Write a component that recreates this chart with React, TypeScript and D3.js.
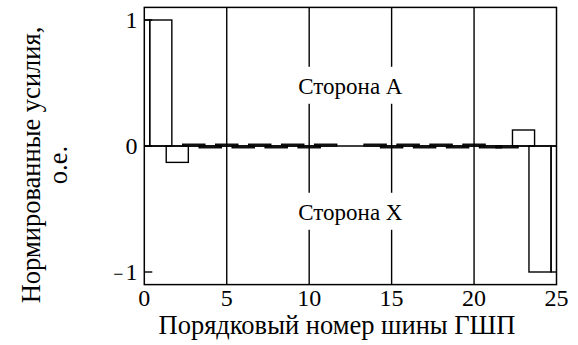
import React from "react";
import * as d3 from "d3";

const busNumbers = [0, 1, 2, 3, 4, 5, 6, 7, 8, 9, 10, 11, 12, 13, 14, 15, 16, 17, 18, 19, 20, 21, 22, 23, 24, 25];
const forces = [1, 1, -0.13, 0.014, -0.014, 0.014, -0.014, 0.014, -0.014, 0.014, -0.014, 0.014, 0, 0, 0.014, -0.014, 0.014, -0.014, 0.014, -0.014, 0.014, -0.014, -0.014, 0.127, -1, -1];
const xTicks = [0, 5, 10, 15, 20, 25];
const yTicks = [-1, 0, 1];
const xTitle = "Порядковый номер шины ГШП";
const yTitleLines = ["Нормированные усилия,", "о.е."];
const sideLabels = [
  { text: "Сторона A", value: 0.47, at: 12.5 },
  { text: "Сторона X", value: -0.53, at: 12.5 },
];

const W = 578;
const H = 345;
const FONT = "Liberation Serif";

export default function App() {
  const x = d3.scaleLinear().domain([0, 25]).range([144.3, 556.5]);
  const y = d3.scaleLinear().domain([-1.1, 1.1]).range([284.6, 7.4]);
  const [x0, x1] = x.range();
  const [yb, yt] = y.range();
  const hw = 0.67;
  const last = busNumbers.length - 1;

  const bars = busNumbers.map((b, i) => {
    let lo = b - hw;
    let hi = b + hw;
    if (i === 0) hi = busNumbers[1] - hw;
    if (i === last) lo = busNumbers[last - 1] + hw;
    const v = forces[i];
    return {
      x: x(lo),
      w: x(hi) - x(lo),
      y: Math.min(y(v), y(0)),
      h: Math.abs(y(v) - y(0)),
    };
  });

  return (
    <svg width={W} height={H} style={{ position: "absolute", left: 0, top: 0, background: "#fff" }}>
      <defs>
        <clipPath id="plotclip">
          <rect x={x0} y={yt} width={x1 - x0} height={yb - yt} />
        </clipPath>
      </defs>
      <rect x={0} y={0} width={W} height={H} fill="#fff" />
      {xTicks.slice(1, -1).map((t) => (
        <line key={t} x1={x(t)} x2={x(t)} y1={yt} y2={yb} stroke="#000" strokeWidth={1.4} />
      ))}
      <line x1={x0} x2={x1} y1={y(0)} y2={y(0)} stroke="#000" strokeWidth={1.4} />
      <g clipPath="url(#plotclip)">
        {bars.map((r, i) => (
          <rect key={i} x={r.x} y={r.y} width={r.w} height={r.h} fill="none" stroke="#000" strokeWidth={1.4} />
        ))}
      </g>
      {sideLabels.map((s) => {
        const cx = x(s.at);
        const cy = y(s.value);
        return (
          <g key={s.text}>
            <rect x={cx - 56} y={cy - 20} width={112} height={37} fill="#fff" />
            <text x={cx} y={cy + 7} textAnchor="middle" style={{ fontFamily: FONT }} fontSize={23} fill="#000">
              {s.text}
            </text>
          </g>
        );
      })}
      {yTicks.map((t) => (
        <line key={t} x1={x0} x2={x0 + 8} y1={y(t)} y2={y(t)} stroke="#000" strokeWidth={1.4} />
      ))}
      <rect x={x0} y={yt} width={x1 - x0} height={yb - yt} fill="none" stroke="#000" strokeWidth={1.5} />
      {xTicks.map((t) => (
        <text key={t} x={x(t)} y={306} textAnchor="middle" style={{ fontFamily: FONT }} fontSize={24} fill="#000">
          {t}
        </text>
      ))}
      {yTicks.map((t) => (
        <text key={t} x={137.5} y={y(t) + 8} textAnchor="end" style={{ fontFamily: FONT }} fontSize={24} fill="#000">
          {t < 0 ? <tspan fontSize={18}>{"\u2212"}</tspan> : null}
          <tspan dx={t < 0 ? 2 : 0}>{Math.abs(t)}</tspan>
        </text>
      ))}
      <text x={337} y={334} textAnchor="middle" style={{ fontFamily: FONT }} fontSize={26.5} fill="#000">
        {xTitle}
      </text>
      {yTitleLines.map((l, i) => (
        <text
          key={i}
          transform={`translate(${40 + i * 27},165) rotate(-90)`}
          textAnchor="middle"
          style={{ fontFamily: FONT }}
          fontSize={26.5}
          fill="#000"
        >
          {l}
        </text>
      ))}
    </svg>
  );
}
